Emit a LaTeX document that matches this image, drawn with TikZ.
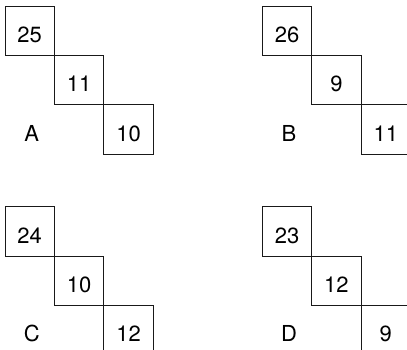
\documentclass[tikz,border=0pt]{standalone}
\usepackage{fontspec}
\setmainfont{TeX Gyre Heros}
\usetikzlibrary{positioning}

\begin{document}
\begin{tikzpicture}[x=1pt,y=-1pt,
  cell/.style={draw=black!90,line width=0.8pt,minimum size=49.4pt,inner sep=0pt,outer sep=0pt,
    font=\fontsize{22}{26}\selectfont,text height=23.4pt,text depth=0pt},
  tag/.style={inner sep=0pt,font=\fontsize{22}{26}\selectfont,text height=23.4pt,text depth=0pt}]
  \useasboundingbox (0,0) rectangle (407,349);
  \clip (0,0) rectangle (407,349);
  % four staircases of three cells
  \foreach \p/\px/\py/\m/\n/\k in {A/5/6/25/11/10,B/262.3/6/26/9/11,C/5/206.7/24/10/12,D/262.3/206.7/23/12/9}{
    \node[cell,anchor=north west] (\p1) at (\px,\py) {\m};
    \node[cell,below right=0pt of \p1] (\p2) {\n};
    \node[cell,below right=0pt of \p2] (\p3) {\k};
    \node[tag,xshift=2pt] (tag\p) at (\p1 |- \p3) {\p};
  }
\end{tikzpicture}
\end{document}
